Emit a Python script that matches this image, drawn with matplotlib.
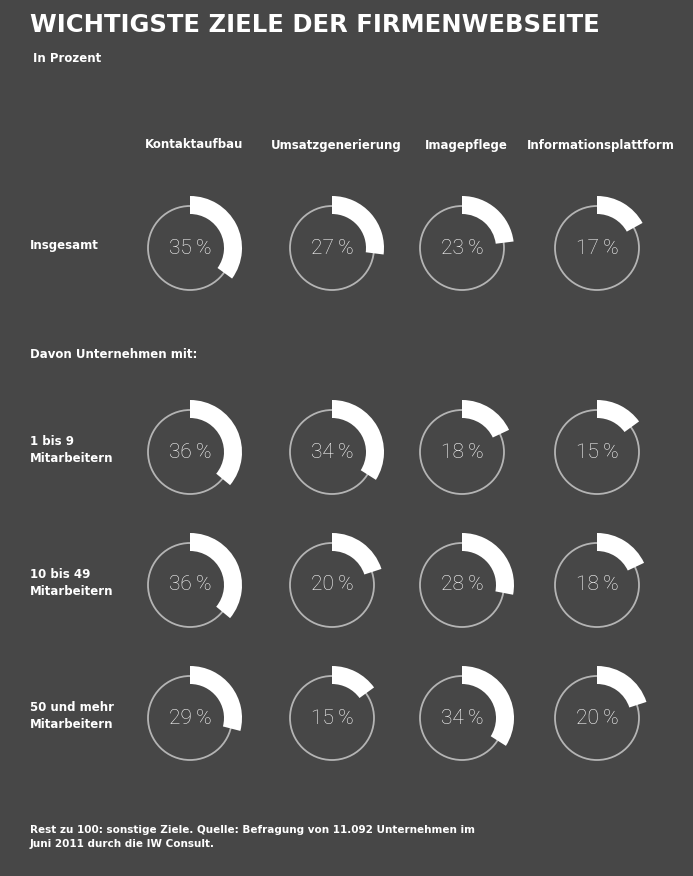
import matplotlib
matplotlib.use("Agg")
import matplotlib.pyplot as plt
from matplotlib.patches import Wedge, Circle

columns = ["Kontaktaufbau", "Umsatzgenerierung", "Imagepflege", "Informationsplattform"]
rows = ["Insgesamt", "1 bis 9\nMitarbeitern", "10 bis 49\nMitarbeitern", "50 und mehr\nMitarbeitern"]
values = [
    [35, 27, 23, 17],
    [36, 34, 18, 15],
    [36, 20, 28, 18],
    [29, 15, 34, 20],
]

BG = "#474747"
fig = plt.figure(figsize=(6.93, 8.76), dpi=100, facecolor=BG)
ax = fig.add_axes([0, 0, 1, 1])
ax.set_xlim(0, 693); ax.set_ylim(876, 0); ax.set_aspect("equal"); ax.axis("off")
ax.set_facecolor(BG)

col_x = [190, 332, 462, 597]
row_y = [248, 452, 585, 718]

ax.text(30, 25, "WICHTIGSTE ZIELE DER FIRMENWEBSEITE", color="white", fontsize=17.5,
        fontweight="bold", va="center", ha="left")
ax.text(33, 58, "In Prozent", color="white", fontsize=8.5, fontweight="bold", va="center")
ax.text(30, 355, "Davon Unternehmen mit:", color="white", fontsize=8.5, fontweight="bold", va="center")
ax.text(30, 837, "Rest zu 100: sonstige Ziele. Quelle: Befragung von 11.092 Unternehmen im\nJuni 2011 durch die IW Consult.",
        color="white", fontsize=7.5, fontweight="bold", va="center", linespacing=1.5)

for cx, c in zip(col_x, columns):
    ax.text(cx + 4, 145, c, color="white", fontsize=8.5, fontweight="bold", ha="center", va="center")

for ry, r, vals in zip(row_y, rows, values):
    ax.text(30, ry - 2, r, color="white", fontsize=8.5, fontweight="bold", ha="left", va="center", linespacing=1.4)
    for cx, v in zip(col_x, vals):
        ax.add_patch(Circle((cx, ry), 42, fill=False, ec="#b4b4b4", lw=1.3))
        ax.add_patch(Wedge((cx, ry), 52, 270, 270 + v * 3.6, width=18, fc="white", ec="none"))
        ax.text(cx, ry, f"{v}\u2009%", color="white", fontsize=15, ha="center", va="center",
                family="Roboto", fontweight="light")

fig.savefig("out.png", dpi=100, facecolor=BG)
